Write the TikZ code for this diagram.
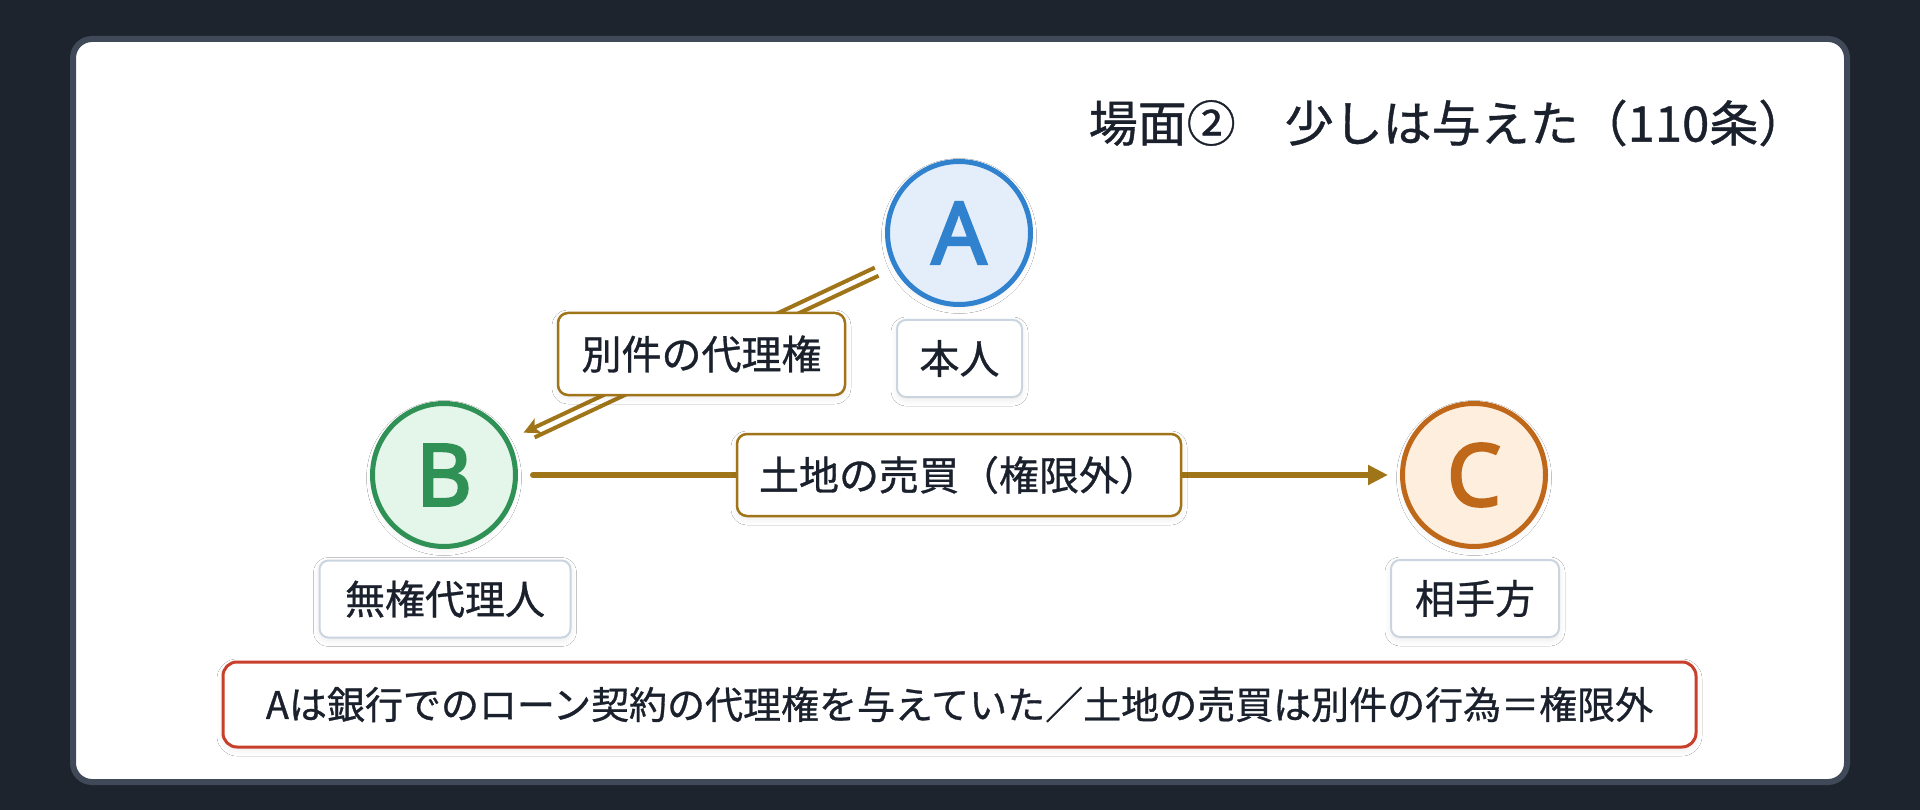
\documentclass[tikz,border=0pt]{standalone}
\usepackage{fontspec}
\setmainfont{Noto Sans CJK JP}[FakeBold=0.8]
\newfontfamily\circfont{Noto Sans}[FakeBold=3]
\usetikzlibrary{arrows.meta,calc,shadows.blur}
\definecolor{bgdark}{HTML}{1E242E}
\definecolor{frameedge}{HTML}{3F4958}
\definecolor{ink}{HTML}{1A202C}
\definecolor{aedge}{HTML}{3182CE}
\definecolor{afill}{HTML}{E3EEFA}
\definecolor{bedge}{HTML}{2F9155}
\definecolor{bfill}{HTML}{E4F5E9}
\definecolor{cedge}{HTML}{C0681A}
\definecolor{cfill}{HTML}{FDEEDD}
\definecolor{arrowcol}{HTML}{A07418}
\definecolor{lblgray}{HTML}{CBD5E0}
\definecolor{notered}{HTML}{C8402C}
\begin{document}
\begin{tikzpicture}[x=1pt,y=-1pt,
  softshadow/.style={blur shadow={shadow xshift=0pt, shadow yshift=-3pt, shadow blur radius=6pt, shadow opacity=8}},
  party/.style={circle, minimum size=143pt, inner sep=0pt, line width=5pt, softshadow,
    font=\fontsize{86}{86}\circfont},
  tagbox/.style={draw=lblgray, line width=2pt, rounded corners=9pt, fill=white, text=ink,
    font=\fontsize{40}{40}\selectfont, minimum height=77pt, inner sep=0pt, softshadow},
  edgebox/.style={draw=arrowcol, line width=2.5pt, rounded corners=10pt, fill=white, text=ink,
    font=\fontsize{40}{40}\selectfont, minimum height=82pt, inner sep=0pt, softshadow},
  notebox/.style={draw=notered, line width=3pt, rounded corners=14pt, fill=white, text=ink,
    font=\fontsize{38}{38}\selectfont, minimum height=85pt, inner sep=0pt, softshadow},
  flow/.style={draw=arrowcol, line width=6pt, line cap=round, -{Triangle[length=20pt,width=19pt]}},
  dline/.style={draw=arrowcol, line width=4pt},
  titletext/.style={text=ink, font=\fontsize{49}{49}\selectfont, inner sep=0pt}
]
\useasboundingbox (0,0) rectangle (1920,810);
\fill[bgdark] (0,0) rectangle (1920,810);
\draw[frameedge, line width=6pt, fill=white, rounded corners=19pt] (73,39) rectangle (1847,782);

\node[titletext] (T) at (1448,123) {場面②　少しは与えた（110条）};

\node[party, draw=aedge, fill=afill, text=aedge] (A) at (959,233) {A};
\node[party, draw=bedge, fill=bfill, text=bedge] (B) at (444,475) {B};
\node[party, draw=cedge, fill=cfill, text=cedge] (C) at (1474,475) {C};

\node[tagbox, minimum width=125pt] (Alab) at (959.5,358.5) {本人};
\node[tagbox, minimum width=251pt] (Blab) at (445,599) {無権代理人};
\node[tagbox, minimum width=168pt] (Clab) at (1475,598.5) {相手方};

% double arrow A -> B
\coordinate (a1) at ($(A.center)!91pt!(B.center)$);
\coordinate (b1) at ($(B.center)!90pt!(A.center)$);
\coordinate (b2) at ($(B.center)!98pt!(A.center)$);
\draw[dline, -{Stealth[length=16pt,width=16pt,inset=4pt]}] ($(a1)!4.5pt!-90:(b1)$) -- ($(b1)!4.5pt!90:(a1)$);
\draw[dline] ($(a1)!4.5pt!90:(b1)$) -- ($(b2)!4.5pt!-90:(a1)$);

% arrow B -> C
\draw[flow, shorten <=15pt, shorten >=12pt] (B) -- (C);

\node[edgebox, minimum width=287pt] (L1) at ($(A)!0.5!(B)$) {別件の代理権};
\node[edgebox, minimum width=444pt] (L2) at ($(B)!0.5!(C)$) {土地の売買（権限外）};

\node[notebox, minimum width=1473pt] (N) at (959.5,704.5) {Aは銀行でのローン契約の代理権を与えていた／土地の売買は別件の行為＝権限外};
\end{tikzpicture}
\end{document}
